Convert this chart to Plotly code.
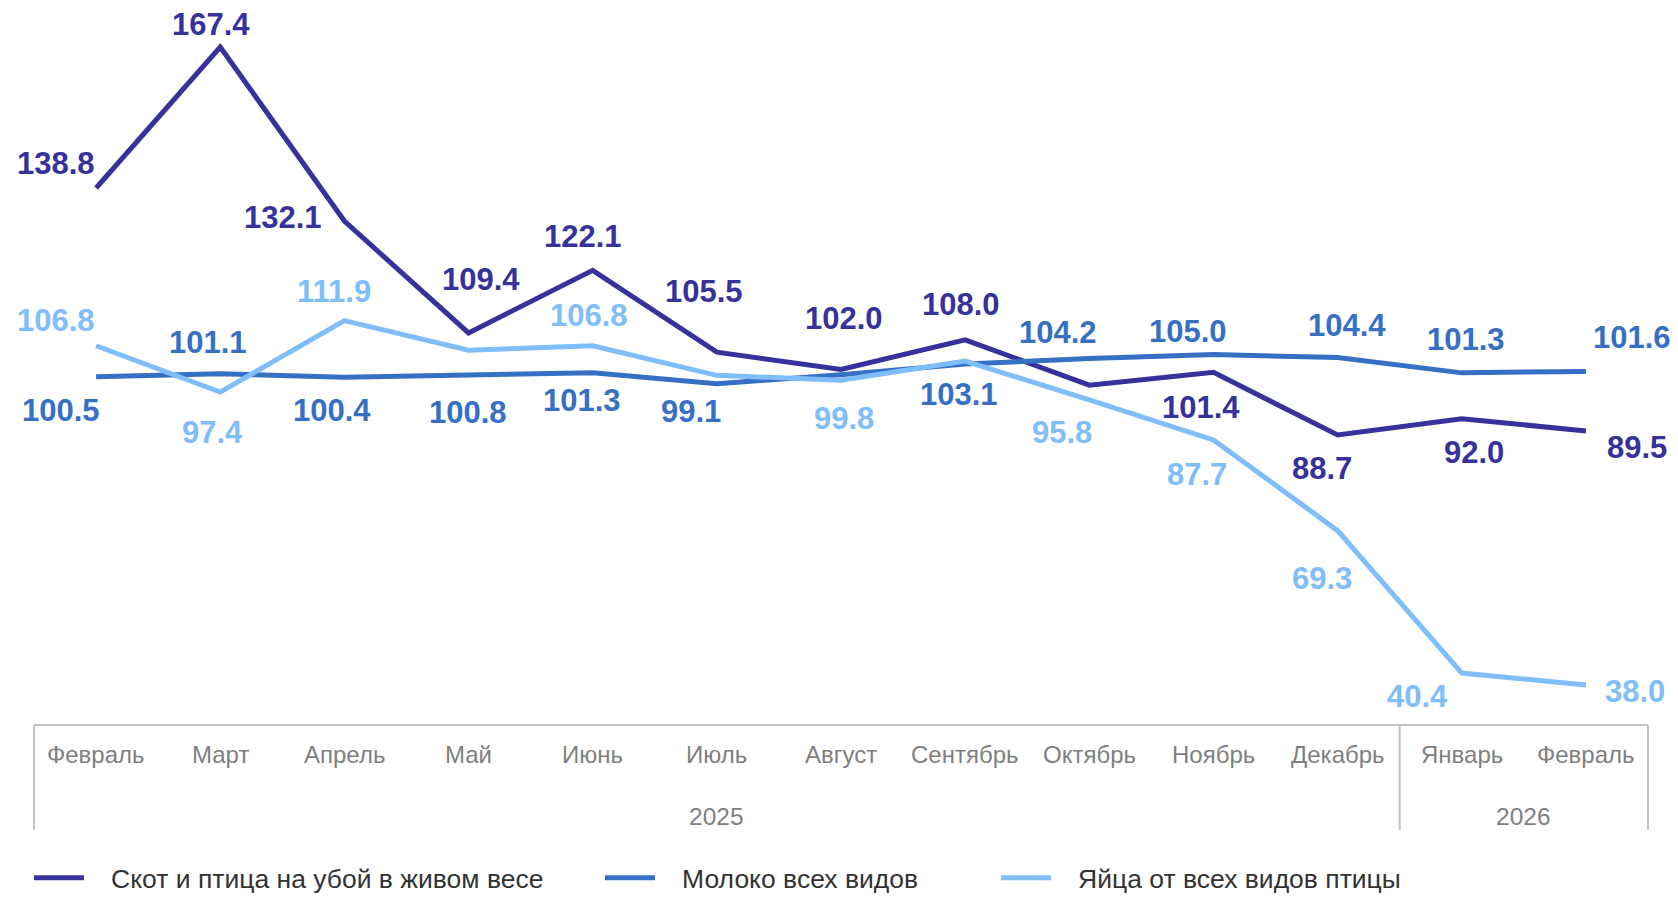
import plotly.graph_objects as go

# ---------------- data ----------------
months = ["Февраль", "Март", "Апрель", "Май", "Июнь", "Июль", "Август",
          "Сентябрь", "Октябрь", "Ноябрь", "Декабрь", "Январь", "Февраль"]
years = ["2025", "2026"]
year_first_idx = [0, 11]
year_last_idx = [10, 12]

livestock = [138.8, 167.4, 132.1, 109.4, 122.1, 105.5, 102.0, 108.0, 98.8, 101.4, 88.7, 92.0, 89.5]
milk = [100.5, 101.1, 100.4, 100.8, 101.3, 99.1, 100.9, 103.1, 104.2, 105.0, 104.4, 101.3, 101.6]
eggs = [106.8, 97.4, 111.9, 105.9, 106.8, 100.8, 99.8, 103.7, 95.8, 87.7, 69.3, 40.4, 38.0]

names = ["Скот и птица на убой в живом весе", "Молоко всех видов", "Яйца от всех видов птицы"]

# ---------------- style ----------------
colors = ["#37319B", "#3670C4", "#7FBDFB"]
# label offsets in screen px (dx, dy; dy positive = down); None = label hidden
label_offsets = [
    [(-40, -24), (-9, -23), (-61, -4), (12, -53), (-10, -34), (-13, -61), (3, -51), (-4, -35),
     None, (-12, 35), (-16, 34), (12, 34), (51, 16)],
    [(-35, 34), (-12, -31), (-12, 33), (-1, 37), (-11, 28), (-26, 28), None, (-6, 31),
     (-31, -26), (-25, -23), (9, -32), (4, -33), (46, -34)],
    [(-40, -25), (-8, 40), (-10, -29), None, (-4, -30), None, (3, 38), None,
     (-27, 33), (-16, 35), (-16, 48), (-44, 23), (49, 7)],
]
legend_px = [29, 600, 996]

W, H = 1678, 897
ML, MR, MT, MB = 34, 30, 5, 172
plot_w = W - ML - MR
plot_h = H - MT - MB
FONT = "Liberation Sans, Arial, sans-serif"
GRID = "#C4C4C4"
TICKC = "#7F7F7F"

x = list(range(len(months)))
series = [livestock, milk, eggs]

fig = go.Figure()
legend_ids = ["legend", "legend2", "legend3"]
for k, (vals, nm, col) in enumerate(zip(series, names, colors)):
    fig.add_trace(go.Scatter(
        x=x, y=vals, name="\u00a0\u00a0\u00a0" + nm, mode="lines",
        line=dict(color=col, width=5),
        legend=legend_ids[k], hoverinfo="skip",
    ))

annotations = []
for k, vals in enumerate(series):
    for i, v in enumerate(vals):
        off = label_offsets[k][i]
        if off is None:
            continue
        annotations.append(dict(
            x=i, y=v, xref="x", yref="y", text=f"{v:.1f}", showarrow=False,
            xanchor="center", yanchor="middle", xshift=off[0], yshift=-off[1],
            font=dict(family=FONT, size=31, color=colors[k], weight="bold"),
        ))

for i, m in enumerate(months):
    annotations.append(dict(
        x=i, y=0, xref="x", yref="paper", text=m, showarrow=False,
        xanchor="center", yanchor="middle", yshift=-29,
        font=dict(family=FONT, size=24, color=TICKC),
    ))
for yr, a, b in zip(years, year_first_idx, year_last_idx):
    annotations.append(dict(
        x=(a + b) / 2, y=0, xref="x", yref="paper", text=yr, showarrow=False,
        xanchor="center", yanchor="middle", yshift=-91,
        font=dict(family=FONT, size=24.5, color=TICKC),
    ))

n = len(months)
shapes = [dict(type="line", xref="paper", yref="paper", x0=0, x1=1, y0=0, y1=0,
               line=dict(color=GRID, width=2))]
div_bottom = -(830 - (H - MB)) / plot_h
boundaries = [-0.5] + [b + 0.5 for b in year_last_idx]
for bnd in boundaries:
    xp = (bnd + 0.5) / n
    shapes.append(dict(type="line", xref="paper", yref="paper", x0=xp, x1=xp,
                       y0=0, y1=div_bottom, line=dict(color=GRID, width=2)))

leg_y = -(878 - (H - MB)) / plot_h
leg_common = dict(orientation="h", xanchor="left", yanchor="middle", y=leg_y,
                  font=dict(family=FONT, size=26.5, color="#333333"),
                  bgcolor="rgba(0,0,0,0)", borderwidth=0, itemwidth=50,
                  itemclick=False, itemdoubleclick=False)

fig.update_layout(
    width=W, height=H,
    margin=dict(l=ML, r=MR, t=MT, b=MB, autoexpand=False),
    paper_bgcolor="white", plot_bgcolor="white",
    xaxis=dict(range=[-0.5, n - 0.5], visible=False, fixedrange=True),
    yaxis=dict(range=[29.87, 175.92], visible=False, fixedrange=True),
    showlegend=True,
    legend=dict(x=(legend_px[0] - ML) / plot_w, **leg_common),
    legend2=dict(x=(legend_px[1] - ML) / plot_w, **leg_common),
    legend3=dict(x=(legend_px[2] - ML) / plot_w, **leg_common),
    annotations=annotations,
    shapes=shapes,
    hovermode=False,
)

fig.write_html(
    "out.html",
    config={"displayModeBar": False},
    post_script="document.body.style.margin='0';document.body.style.overflow='hidden';",
)
